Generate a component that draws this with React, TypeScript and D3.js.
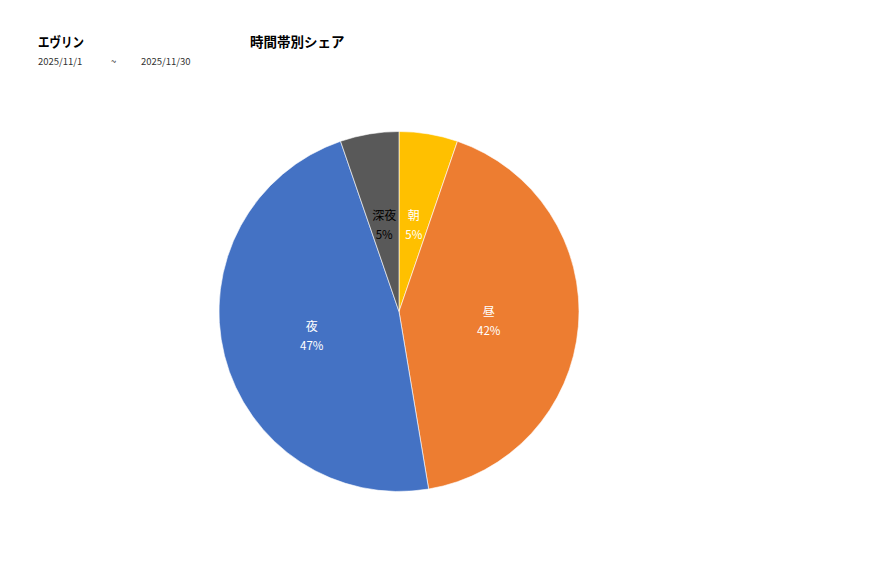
import React from 'react';
import * as d3 from 'd3';

// time-of-day share (counts)
const categories = ['朝', '昼', '夜', '深夜'];
const counts = [1, 8, 9, 1];
const colors = ['#FFC000', '#ED7D31', '#4472C4', '#595959'];
const labelColors = ['#ffffff', '#ffffff', '#ffffff', '#000000'];

const shopName = 'エヴリン';
const chartTitle = '時間帯別シェア';
const dateFrom = '2025/11/1';
const dateTo = '2025/11/30';

const App: React.FC = () => {
  const width = 877;
  const height = 578;
  const cx = 399;
  const cy = 311.5;
  const radius = 180;
  const font = '"Noto Sans CJK JP", "Noto Sans", sans-serif';

  const total = d3.sum(counts);
  const pie = d3.pie<number>().sort(null).value(d => d);
  const arcs = pie(counts);
  const arc = d3.arc<d3.PieArcDatum<number>>().innerRadius(0).outerRadius(radius);
  const labelArc = d3.arc<d3.PieArcDatum<number>>().innerRadius(radius * 0.5).outerRadius(radius * 0.5);
  const pct = d3.format('.0%');

  return (
    <svg width={width} height={height} style={{ position: 'absolute', left: 0, top: 0 }} fontFamily={font}>
      <rect width={width} height={height} fill="#ffffff" />
      <text x={38} y={47} fontSize={13.5} fontWeight="bold" fill="#000" textLength={46} lengthAdjust="spacingAndGlyphs">{shopName}</text>
      <text x={250} y={47} fontSize={13.5} fontWeight="bold" fill="#000">{chartTitle}</text>
      <text x={38} y={65} fontSize={9.5} fill="#333">{dateFrom}</text>
      <text x={111} y={65} fontSize={9.5} fill="#333">~</text>
      <text x={141} y={65} fontSize={9.5} fill="#333">{dateTo}</text>

      <g transform={`translate(${cx},${cy})`}>
        {arcs.map((a, i) => (
          <path key={categories[i]} d={arc(a) ?? ''} fill={colors[i]} stroke="#ffffff" strokeWidth={0.6} />
        ))}
        {arcs.map((a, i) => {
          const [lx, ly] = labelArc.centroid(a);
          return (
            <text key={'l' + categories[i]} textAnchor="middle" fill={labelColors[i]} fontSize={12}>
              <tspan x={lx} y={ly - 3}>{categories[i]}</tspan>
              <tspan x={lx} y={ly + 16} fontSize={11.5}>{pct(counts[i] / total)}</tspan>
            </text>
          );
        })}
      </g>
    </svg>
  );
};

export default App;
